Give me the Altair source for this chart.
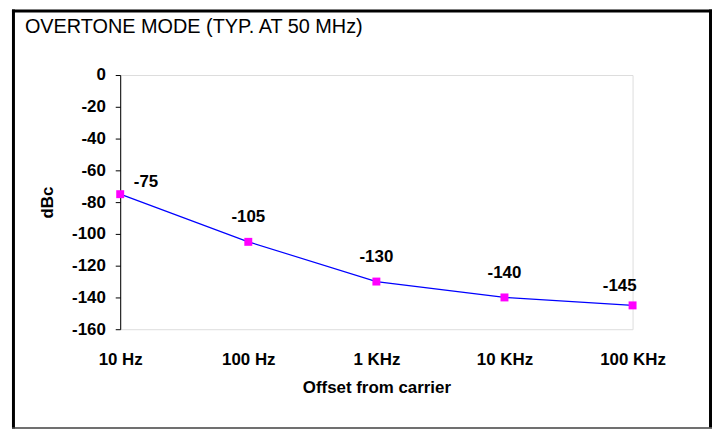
import altair as alt
import pandas as pd

categories = ["10 Hz", "100 Hz", "1 KHz", "10 KHz", "100 KHz"]
values = [-75, -105, -130, -140, -145]
y_ticks = [0, -20, -40, -60, -80, -100, -120, -140, -160]
title_text = "OVERTONE MODE (TYP. AT 50 MHz)"

FONT = "Liberation Sans, Arial, sans-serif"
FS = 17

df = pd.DataFrame({"cat": categories, "val": values, "lab": [str(v) for v in values]})

W, H = 516, 256

x_enc = alt.X("cat:N", sort=categories,
              scale=alt.Scale(type="point", padding=0),
              axis=alt.Axis(title="Offset from carrier", labelAngle=0, ticks=False, domain=False,
                            labelFont=FONT, labelFontSize=FS, labelFontWeight="bold", labelColor="black",
                            labelPadding=23, labelOverlap=False,
                            titleFont=FONT, titleFontSize=FS, titleFontWeight="bold",
                            titleColor="black", titlePadding=12, grid=False))
y_enc = alt.Y("val:Q", scale=alt.Scale(domain=[-160, 0], nice=False, zero=False),
              axis=alt.Axis(title="dBc", values=y_ticks, tickCount=9, grid=False, domainColor="black",
                            domainWidth=1, tickColor="black", tickSize=5, labelFont=FONT, labelFontSize=FS,
                            labelFontWeight="bold", labelColor="black", labelPadding=10,
                            labelOverlap=False, labelExpr="toString(datum.value)",
                            titleFont=FONT, titleFontSize=FS, titleFontWeight="bold", titleColor="black",
                            titlePadding=15))

base = alt.Chart(df).encode(x=x_enc, y=y_enc)

line = base.mark_line(color="#0000FF", strokeWidth=1.2)
pts = base.mark_point(shape="square", filled=True, color="#FF00FF", size=64, opacity=1)

lab_style = dict(font=FONT, fontSize=FS, fontWeight="bold", color="black", baseline="middle", align="center")
lab_first = base.transform_filter(alt.datum.cat == categories[0]).mark_text(
    dx=26, dy=-12, **lab_style).encode(text="lab:N")
lab_mid = base.transform_filter(
    (alt.datum.cat != categories[0]) & (alt.datum.cat != categories[-1])
).mark_text(dx=0, dy=-25, **lab_style).encode(text="lab:N")
lab_last = base.transform_filter(alt.datum.cat == categories[-1]).mark_text(
    dx=-13, dy=-19, **lab_style).encode(text="lab:N")

one = alt.Chart(pd.DataFrame({"t": [title_text]}))
title = one.mark_text(font=FONT, fontSize=20, color="black", align="left", baseline="alphabetic").encode(
    x=alt.value(-96), y=alt.value(-42), text="t:N")

frame_l = one.mark_rule(color="black", strokeWidth=3).encode(
    x=alt.value(-107.5), y=alt.value(-66), y2=alt.value(356))
frame_t = one.mark_rule(color="black", strokeWidth=3).encode(
    x=alt.value(-109), x2=alt.value(596), y=alt.value(-64.5))
frame_r = one.mark_rule(color="black", strokeWidth=3).encode(
    x=alt.value(594.5), y=alt.value(-66), y2=alt.value(355))
frame_b = one.mark_rule(color="#404040", strokeWidth=1.5).encode(
    x=alt.value(-109), x2=alt.value(596), y=alt.value(355.5))

chart = alt.layer(line, pts, lab_first, lab_mid, lab_last, title, frame_l, frame_t, frame_r, frame_b).properties(
    width=W, height=H,
    autosize=alt.AutoSizeParams(type="none"),
    padding={"left": 113, "top": 66, "right": 80, "bottom": 100},
).configure_view(stroke="#808080", strokeWidth=1).configure(background="white")

chart.save("out.html", embed_options={"renderer": "svg", "actions": False})
